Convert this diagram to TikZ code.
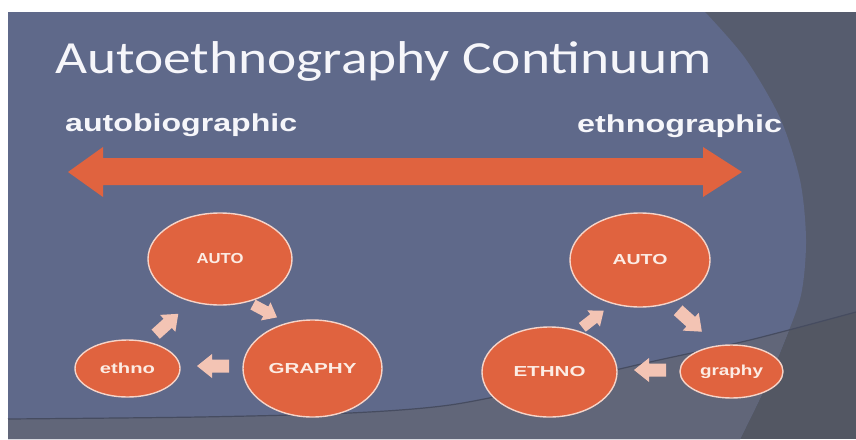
\documentclass[tikz,border=0pt]{standalone}
\usepackage{fontspec}
\usepackage{graphicx}
\setmainfont{Liberation Sans}
\newfontfamily\titlefont{Carlito}
\usetikzlibrary{shapes.geometric}
\definecolor{slidebg}{RGB}{95,105,138}
\definecolor{darkarc}{RGB}{86,92,110}
\definecolor{bandin}{RGB}{97,102,121}
\definecolor{bandout}{RGB}{83,87,99}
\definecolor{bandline}{RGB}{70,76,96}
\definecolor{orangeA}{RGB}{224,99,63}
\definecolor{pinkA}{RGB}{243,196,180}
\definecolor{rimc}{RGB}{246,212,200}
\definecolor{txtw}{RGB}{246,246,250}
\definecolor{txtc}{RGB}{252,236,228}
\tikzset{
  bubble/.style={ellipse, fill=orangeA, draw=rimc, line width=1.4pt, inner sep=0pt, text=txtc},
  lbl/.style={inner sep=0pt, text=txtw},
  pics/flowarrow/.style={code={
    \fill[pinkA] (-16,-6.5) -- (1,-6.5) -- (1,-12) -- (16,0) -- (1,12) -- (1,6.5) -- (-16,6.5) -- cycle;
  }}
}
\newcommand{\btxt}[2]{\resizebox{#1pt}{\height}{\fontsize{14.5}{15}\selectfont\bfseries #2}}
\begin{document}
\begin{tikzpicture}[x=1pt,y=-1pt]
\useasboundingbox (0,0) rectangle (856,439);
\fill[white] (0,0) rectangle (856,439);
% slide background
\fill[darkarc] (8,12) rectangle (856,439);
\begin{scope}
  \clip (8,439) -- (8,419) -- plot[smooth] coordinates {(8,419) (200,417) (350,413) (450,405) (550,385) (650,362) (750,340) (856,312)} -- (856,439) -- cycle;
  \fill[bandout] (8,12) rectangle (856,439);
\end{scope}
\fill[slidebg] (8,12) -- plot[smooth] coordinates {(705,12) (745,58) (780,118) (800,180) (806,240) (801,295) (783,345) (763,392) (740,439)} -- (8,439) -- cycle;
\begin{scope}
  \clip (8,439) -- (8,419) -- plot[smooth] coordinates {(8,419) (200,417) (350,413) (450,405) (550,385) (650,362) (750,340) (856,312)} -- (856,439) -- cycle;
  \fill[bandin] (8,12) -- plot[smooth] coordinates {(705,12) (745,58) (780,118) (800,180) (806,240) (801,295) (783,345) (763,392) (740,439)} -- (8,439) -- cycle;
\end{scope}
\draw[bandline, line width=1.2pt] plot[smooth] coordinates {(8,419) (200,417) (350,413) (450,405) (550,385) (650,362) (750,340) (856,312)};

% title and labels
\node[lbl, anchor=base west] (title) at (55,73) {\resizebox{657pt}{\height}{\titlefont\fontsize{46}{46}\selectfont Autoethnography Continuum}};
\node[lbl, anchor=base west] (autobio) at (65,131) {\resizebox{232pt}{\height}{\fontsize{24.5}{25}\selectfont\bfseries autobiographic}};
\node[lbl, anchor=base west] (ethnog) at (577,132) {\resizebox{205pt}{\height}{\fontsize{24.5}{25}\selectfont\bfseries ethnographic}};

% continuum double arrow
\fill[orangeA] (68,172) -- (103,147) -- (103,158) -- (703,158) -- (703,147) -- (742,172)
  -- (703,197) -- (703,185) -- (103,185) -- (103,197) -- cycle;

% left cycle
\node[bubble, minimum width=144pt, minimum height=92pt] (autoL) at (220,259) {\btxt{47}{AUTO}};
\node[bubble, minimum width=105pt, minimum height=57pt] (ethnoL) at (127.5,368.5) {\btxt{55}{ethno}};
\node[bubble, minimum width=139pt, minimum height=97pt] (graphyL) at (312.5,368.5) {\btxt{88}{GRAPHY}};
\pic[shift={(167,324)}, rotate=42, scale=0.95] {flowarrow};
\pic[shift={(265,311)}, rotate=-28, scale=0.85] {flowarrow};
\pic[shift={(213,366)}, rotate=180] {flowarrow};

% right cycle
\node[bubble, minimum width=140pt, minimum height=94pt] (autoR) at (640,260) {\btxt{55}{AUTO}};
\node[bubble, minimum width=135pt, minimum height=90pt] (ethnoR) at (549.5,372) {\btxt{72}{ETHNO}};
\node[bubble, minimum width=103pt, minimum height=53pt] (graphyR) at (731.5,371.5) {\btxt{63}{graphy}};
\pic[shift={(593,319)}, rotate=38, scale=0.85] {flowarrow};
\pic[shift={(690,321)}, rotate=-42] {flowarrow};
\pic[shift={(650,370)}, rotate=180] {flowarrow};
\end{tikzpicture}
\end{document}
